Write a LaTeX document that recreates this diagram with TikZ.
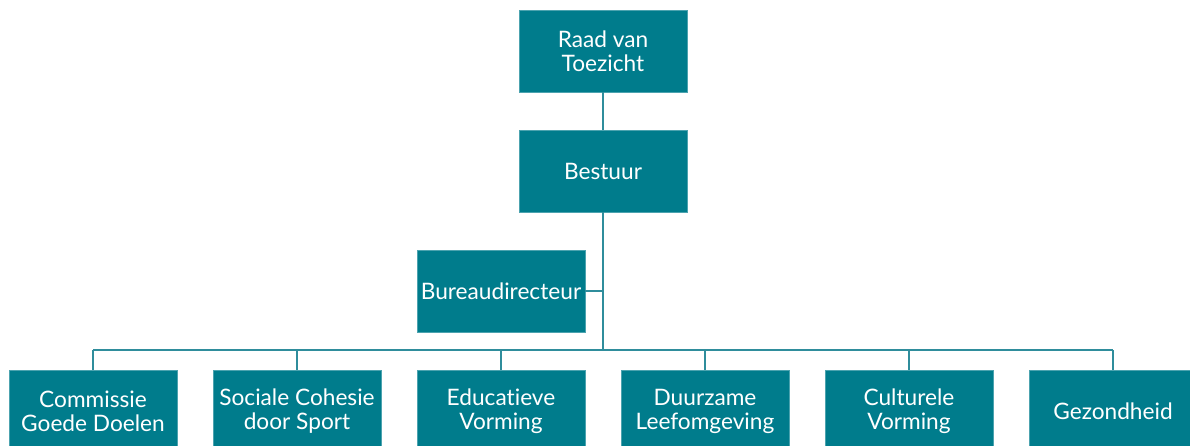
\documentclass[tikz,border=0pt]{standalone}
\usepackage{fontspec}
\setmainfont{Lato}[RawFeature={-liga}]
\definecolor{boxteal}{HTML}{007C8C}
\definecolor{lineteal}{HTML}{2F8D9C}
\begin{document}
\begin{tikzpicture}[x=0.75pt,y=-0.75pt,
  orgbox/.style={fill=boxteal, draw=boxteal!70!white, line width=0.4pt, text=white,
    minimum width=168*0.75pt, minimum height=82*0.75pt, inner sep=0pt,
    align=center, font=\fontsize{17}{18}\selectfont},
  conn/.style={draw=lineteal, line width=0.9pt}]
\useasboundingbox (0,0) rectangle (1190,446);
\node[orgbox] (rvt) at (603,51) {Raad van\\Toezicht};
\node[orgbox] (best) at (603,171) {Bestuur};
\node[orgbox] (bur) at (501,291) {Bureaudirecteur};
\node[orgbox] (b1) at (93,411) {Commissie\\Goede Doelen};
\node[orgbox] (b2) at (297,411) {Sociale Cohesie\\door Sport};
\node[orgbox] (b3) at (501,411) {Educatieve\\Vorming};
\node[orgbox] (b4) at (705,411) {Duurzame\\Leefomgeving};
\node[orgbox] (b5) at (909,411) {Culturele\\Vorming};
\node[orgbox] (b6) at (1113,411) {Gezondheid};
\coordinate (hub) at (603,350);
\path[conn] (rvt.south) -- (best.north);
\path[conn] (best.south) -- (hub);
\path[conn] (bur.east) -- (bur.east -| best.south);
\path[conn] (b1.north |- hub) -- (b6.north |- hub);
\foreach \b in {b1,b2,b3,b4,b5,b6}{
  \path[conn] (\b.north |- hub) -- (\b.north);
}
\end{tikzpicture}
\end{document}
